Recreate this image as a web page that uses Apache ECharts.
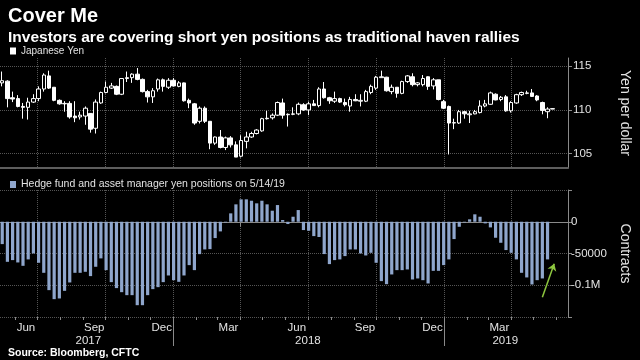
<!DOCTYPE html>
<html><head><meta charset="utf-8">
<script src="https://cdn.jsdelivr.net/npm/echarts@6/dist/echarts.min.js"></script>
<style>html,body{margin:0;padding:0;background:#000;}#c{width:640px;height:360px;}</style>
</head><body><div id="c"></div>
<script>
// ---- data (weekly, first week plotted at 2017-05-15) ----
const firstWeek = [2017, 4, 15];
const yenOpen = [113.1,113.3,111.4,111.3,110.4,110.3,110.9,111.3,112.4,113.9,112.6,111.1,110.7,110.75,109.3,109.2,109.3,109.6,107.9,110.8,112.0,112.5,112.7,
111.8,113.6,113.7,114.1,113.5,112.1,111.5,112.4,113.45,112.6,113.4,112.7,113.1,111.1,110.7,108.7,110.2,108.7,106.2,106.9,105.7,
106.8,106.0,104.7,106.4,106.9,107.3,107.6,109.05,109.1,109.4,110.8,109.45,109.5,109.55,110.6,110.0,110.7,110.5,112.4,111.4,111.0,111.3,
110.85,110.45,111.2,111.0,111.0,112.0,112.5,113.7,113.75,112.1,112.6,111.9,113.25,113.8,112.9,112.9,113.8,112.75,113.45,110.95,110.4,
108.5,108.5,109.8,109.45,109.55,109.7,110.45,110.65,111.8,111.2,111.5,109.9,110.8,111.75,111.9,111.95,111.6,110.85,109.8,110.1];
const yenClose = [113.35,111.3,111.25,110.4,110.3,110.9,111.3,112.4,114.0,112.5,111.1,110.7,110.75,109.2,109.1,109.4,110.2,107.8,110.9,112.0,112.6,112.75,111.8,
113.6,113.7,114.1,113.5,112.1,111.5,112.2,113.45,112.7,113.4,112.75,113.1,111.05,110.8,108.5,110.2,108.7,106.2,106.9,105.7,106.8,
106.0,104.6,106.5,106.9,107.3,107.7,109.0,109.0,109.4,110.85,109.4,109.5,109.55,110.65,110.0,110.7,110.5,112.4,111.4,111.05,111.3,110.9,
110.6,111.2,111.05,111.1,112.1,112.7,113.75,113.8,112.2,112.6,111.9,113.25,113.9,112.9,113.1,113.6,112.7,113.45,111.2,110.2,108.5,
108.55,109.8,109.55,109.55,109.8,110.45,110.7,111.95,111.15,111.45,109.9,110.85,111.75,112.0,111.95,111.55,111.15,109.95,110.1,110.15];
const yenLow = [112.7,110.3,110.9,110.3,109.0,108.9,110.8,111.0,112.1,112.4,111.0,110.6,109.8,109.0,108.6,108.9,108.3,107.4,107.3,110.7,111.9,112.4,111.7,
111.7,113.2,113.1,113.4,112.0,110.85,110.8,112.1,112.1,112.4,112.7,112.6,110.96,110.2,108.3,108.45,108.5,105.5,106.0,105.6,105.4,
105.7,104.6,104.56,105.6,106.8,107.2,107.5,108.9,108.9,109.3,109.0,108.1,109.4,109.4,109.9,109.4,110.5,110.3,111.3,110.7,110.8,110.8,
110.4,109.8,111.0,110.4,110.9,111.8,112.3,113.7,112.1,111.8,111.4,111.8,113.1,112.7,112.7,112.7,112.3,112.35,111.1,110.1,104.9,
107.8,108.4,109.0,108.5,109.5,109.6,110.3,110.6,111.1,111.0,109.8,109.7,110.7,111.6,111.8,111.5,111.0,109.5,109.05,110.1];
const yenHigh = [114.4,113.4,112.1,111.7,110.8,111.4,111.8,112.7,114.2,114.5,112.6,111.2,111.0,111.0,111.0,109.8,110.4,109.4,111.2,112.1,113.26,113.1,112.8,
113.6,114.4,114.2,114.8,113.6,112.3,112.5,113.6,113.6,113.64,113.64,113.3,113.14,111.3,110.8,110.4,110.4,108.7,106.95,107.7,106.95,
107.0,106.4,107.1,107.5,107.5,107.8,109.1,109.9,109.6,110.96,111.3,109.6,110.3,110.84,110.77,110.96,111.15,112.6,113.2,111.5,112.1,111.4,
111.3,111.5,111.8,111.8,112.3,112.9,113.9,114.5,113.8,112.9,112.6,113.35,114.0,114.2,113.2,114.0,113.85,113.65,113.45,111.15,110.5,
109.0,110.0,109.9,109.9,110.0,111.1,111.15,112.1,111.9,111.6,111.7,111.0,111.85,112.1,112.2,112.4,111.7,110.95,110.3,110.2];
const positions = [-35200,-63100,-60400,-64100,-69400,-59300,-49900,-64600,-80400,-107700,-121900,-120800,-108800,-95600,-80400,-80400,-78800,-85600,-70900,-57700,
-76200,-95100,-104500,-110900,-115600,-115600,-131400,-131400,-115600,-106100,-103000,-95100,-84600,-92000,-94600,-84600,-68300,-76200,-51000,-43600,
-43100,-25700,-15200,-1000,13200,27400,35300,35300,33100,29000,33100,27400,17400,26300,2700,-3600,7900,18400,-13100,-14200,
-22600,-24000,-50900,-66700,-60400,-59300,-54100,-43600,-43600,-49900,-53100,-48900,-64600,-93500,-98300,-83000,-76200,-76200,-75100,-90900,
-89300,-92000,-97200,-77300,-77300,-68300,-59300,-27300,-7900,-1000,3800,11700,7900,-2600,-8900,-25200,-33100,-44600,-48900,-59300,
-80400,-87700,-98800,-92000,-89300,-59300];
const yenTicks = [105, 110, 115];
const monthLabels = ['Jun','Sep','Dec','Mar','Jun','Sep','Dec','Mar'];
const yearLabels = ['2017','2018','2019'];
const seriesNames = ['Japanese Yen', 'Hedge fund and asset manager yen positions on 5/14/19'];

// ---- scale helpers (x = timestamp on a value axis) ----
const D = (y, m, d, h) => new Date(y, m, d, h || 0).getTime();
const weekDate = k => D(firstWeek[0], firstWeek[1], firstWeek[2] + 7 * k);
const xMin = D(2017, 4, 12);
const xMax = D(2019, 5, 16, 14);
const monthStarts = [];
for (let i = 0; i <= 24; i++) monthStarts.push(D(2017, 5 + i, 1));
const quarterStarts = [];
for (let i = 1; i <= 22; i += 3) quarterStarts.push(D(2017, 5 + i, 1));
const monthLabelVals = monthLabels.map((_, i) => D(2017, 5 + 3 * i, 16));
const yearLabelVals = [D(2017, 8, 8), D(2018, 6, 1), D(2019, 2, 24)];
const yearSeps = [D(2018, 0, 1), D(2019, 0, 1)];
const lookup = (vals, labels) => { const m = new Map(); vals.forEach((v, i) => m.set(v, labels[i])); return v => m.get(v) || ''; };
const monthFmt = lookup(monthLabelVals, monthLabels);
const yearFmt = lookup(yearLabelVals, yearLabels);

const candles = yenOpen.map((o, k) => [weekDate(k), o, yenClose[k], yenLow[k], yenHigh[k]]);
const bars = positions.map((v, k) => [weekDate(k), v]);

const F = "'Liberation Sans', Arial, sans-serif";
const TXT = '#e2e2e2';
const GRIDC = '#555';
const AX = '#8a8a8a';

const baseX = { type: 'value', position: 'bottom', min: xMin, max: xMax, scale: true };

const chart = echarts.init(document.getElementById('c'));
chart.setOption({
  backgroundColor: '#000',
  animation: false,
  textStyle: { fontFamily: F },
  title: [
    { text: 'Cover Me', left: 3, top: 1, textStyle: { color: '#fff', fontSize: 20, fontWeight: 'bold', fontFamily: F } },
    { text: 'Investors are covering short yen positions as traditional haven rallies', left: 3, top: 25,
      textStyle: { color: '#fff', fontSize: 15.5, fontWeight: 'bold', fontFamily: F } },
    { text: 'Source: Bloomberg, CFTC', left: 3, top: 343, textStyle: { color: '#fff', fontSize: 10.5, fontWeight: 'bold', fontFamily: F } }
  ],
  legend: [
    { data: [{ name: seriesNames[0], itemStyle: { color: '#fff', borderWidth: 0 } }], left: 5, top: 41, icon: 'rect', itemWidth: 6, itemHeight: 7,
      selectedMode: false, textStyle: { color: TXT, fontSize: 10, fontFamily: F } },
    { data: [seriesNames[1]], left: 5, top: 174, icon: 'rect', itemWidth: 6, itemHeight: 7,
      selectedMode: false, textStyle: { color: TXT, fontSize: 10.5, fontFamily: F } }
  ],
  grid: [
    { left: 0, right: 61, top: 58, height: 110 },
    { left: 0, right: 61, top: 190, height: 127 }
  ],
  xAxis: [
    Object.assign({}, baseX, { gridIndex: 0,
      axisLine: { show: true, lineStyle: { color: '#5e5e5e', width: 2 } },
      axisTick: { show: false, customValues: quarterStarts }, axisLabel: { show: false },
      splitLine: { show: true, lineStyle: { color: GRIDC, type: 'dotted' } } }),
    Object.assign({}, baseX, { gridIndex: 1,
      axisLine: { show: true, lineStyle: { color: AX } },
      axisTick: { show: true, customValues: quarterStarts, length: 5, lineStyle: { color: AX } },
      axisLabel: { show: true, customValues: monthLabelVals, formatter: v => monthFmt(v), color: TXT, fontSize: 11.5, margin: 5, fontFamily: F },
      splitLine: { show: true, lineStyle: { color: GRIDC, type: 'dotted' } } }),
    Object.assign({}, baseX, { gridIndex: 1,
      axisLine: { show: false },
      axisTick: { show: true, customValues: monthStarts, length: 3, lineStyle: { color: AX } },
      axisLabel: { show: false }, splitLine: { show: false } }),
    Object.assign({}, baseX, { gridIndex: 1,
      axisLine: { show: false },
      axisTick: { show: true, customValues: yearSeps, length: 29, lineStyle: { color: AX } },
      axisLabel: { show: true, customValues: yearLabelVals, formatter: v => yearFmt(v), color: TXT, fontSize: 11.5, margin: 18, fontFamily: F },
      splitLine: { show: false } })
  ],
  yAxis: [
    { type: 'value', gridIndex: 0, position: 'right', min: 103.35, max: 115.95,
      name: 'Yen per dollar', nameLocation: 'middle', nameRotate: -90, nameGap: 50,
      nameTextStyle: { color: TXT, fontSize: 14, fontFamily: F },
      axisLine: { show: true, lineStyle: { color: AX } },
      axisTick: { show: true, customValues: yenTicks, length: 4, lineStyle: { color: AX } },
      axisLabel: { show: true, customValues: yenTicks, color: TXT, fontSize: 11.5, margin: 5, fontFamily: F },
      splitLine: { show: true, lineStyle: { color: GRIDC, type: 'dotted' } } },
    { type: 'value', gridIndex: 1, position: 'right', min: -150000, max: 50000, interval: 50000,
      name: 'Contracts', nameLocation: 'middle', nameRotate: -90, nameGap: 50,
      nameTextStyle: { color: TXT, fontSize: 14, fontFamily: F },
      axisLine: { show: true, lineStyle: { color: AX } },
      axisTick: { show: true, length: 4, lineStyle: { color: AX } },
      axisLabel: { show: true, color: TXT, fontSize: 11.5, margin: 3, fontFamily: F,
        formatter: v => (v === 50000 || v === -150000) ? '' : (v === -100000 ? '-0.1M' : String(v)) },
      splitLine: { show: true, lineStyle: { color: GRIDC, type: 'dotted' } } }
  ],
  series: [
    { name: seriesNames[0], type: 'candlestick', xAxisIndex: 0, yAxisIndex: 0, data: candles, barWidth: 4,
      itemStyle: { color: '#000', borderColor: '#fff', color0: '#fff', borderColor0: '#fff', borderWidth: 1 } },
    { name: seriesNames[1], type: 'bar', xAxisIndex: 1, yAxisIndex: 1, data: bars, barWidth: 3.2,
      itemStyle: { color: '#8fa6cc' },
      markLine: { silent: true, symbol: ['none', 'arrow'], symbolSize: 7, label: { show: false },
        lineStyle: { color: '#8dc63f', width: 1.5, type: 'solid' },
        data: [[{ coord: [D(2019, 4, 13), -119000] }, { coord: [D(2019, 4, 29), -66000] }]] } }
  ]
});
</script>
</body></html>
